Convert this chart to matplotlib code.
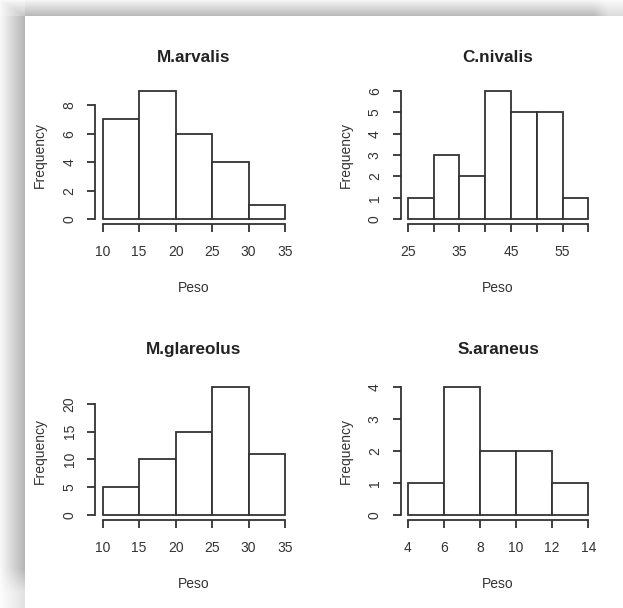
import matplotlib.pyplot as plt
import numpy as np

plt.rcParams['font.family'] = ['Liberation Sans', 'DejaVu Sans']

# histogram counts per species (Peso classes)
titles = ['M.arvalis', 'C.nivalis', 'M.glareolus', 'S.araneus']
arvalis_breaks = [10, 15, 20, 25, 30, 35]
arvalis_counts = [7, 9, 6, 4, 1]
nivalis_breaks = [25, 30, 35, 40, 45, 50, 55, 60]
nivalis_counts = [1, 3, 2, 6, 5, 5, 1]
glareolus_breaks = [10, 15, 20, 25, 30, 35]
glareolus_counts = [5, 10, 15, 23, 11]
araneus_breaks = [4, 6, 8, 10, 12, 14]
araneus_counts = [1, 4, 2, 2, 1]

yticks = [[0, 2, 4, 6, 8], [0, 1, 2, 3, 4, 5, 6], [0, 5, 10, 15, 20], [0, 1, 2, 3, 4]]
xlabels = [['10', '15', '20', '25', '30', '35'],
           ['25', '', '35', '', '45', '', '55', ''],
           ['10', '15', '20', '25', '30', '35'],
           ['4', '6', '8', '10', '12', '14']]

breaks = [arvalis_breaks, nivalis_breaks, glareolus_breaks, araneus_breaks]
counts = [arvalis_counts, nivalis_counts, glareolus_counts, araneus_counts]

W, H = 623, 608
fig = plt.figure(figsize=(W / 100, H / 100), dpi=100)

# grey drop shadow along the top and left edge of the window
yy, xx = np.mgrid[0:H, 0:W].astype(float)
shade = np.ones((H, W))
tw, lw_ = 16.0, 25.0
top = (yy < tw) & (xx >= lw_)
fade_r = np.clip((W - xx) / 30.0, 0.5, 1)
shade[top] = 1 - (0.04 + 0.25 * (yy[top] / tw)) * fade_r[top]
left = (xx < lw_) & (yy >= tw)
fade_b = np.clip((H - yy) / 40.0, 0.4, 1)
shade[left] = 1 - (0.03 + 0.27 * (xx[left] / lw_)) * fade_b[left]
corner = (xx < lw_) & (yy < tw)
t = np.minimum(xx[corner] / lw_, yy[corner] / tw)
shade[corner] = 1 - (0.03 + 0.2 * t)
bg = fig.add_axes([0, 0, 1, 1], zorder=-1)
bg.imshow(shade, cmap='gray', vmin=0, vmax=1, aspect='auto', interpolation='bilinear')
bg.axis('off')

# plot regions in pixels: (left, right, top, bottom)
boxes = [(95.4, 292.3, 85.8, 224.3), (400.6, 595.5, 85.8, 224.3),
         (95.4, 292.3, 382.2, 520.1), (400.6, 595.5, 382.2, 520.1)]

ink = '#333333'
for i in range(4):
    x0, x1, y0, y1 = boxes[i]
    ax = fig.add_axes([x0 / W, 1 - y1 / H, (x1 - x0) / W, (y1 - y0) / H])
    ax.patch.set_alpha(0)
    b = breaks[i]
    c = counts[i]
    ax.bar(b[:-1], c, width=np.diff(b), align='edge', facecolor='white',
           edgecolor=ink, linewidth=1.3)
    rx = b[-1] - b[0]
    ax.set_xlim(b[0] - 0.04 * rx, b[-1] + 0.04 * rx)
    top_y = max(c)
    ax.set_ylim(-0.04 * top_y, top_y * 1.04)
    ax.set_xticks(b)
    ax.set_xticklabels(xlabels[i])
    ax.set_yticks(yticks[i])
    for s in ['top', 'right']:
        ax.spines[s].set_visible(False)
    for s in ['left', 'bottom']:
        ax.spines[s].set_color(ink)
        ax.spines[s].set_linewidth(1.3)
    ax.spines['left'].set_bounds(yticks[i][0], yticks[i][-1])
    ax.spines['bottom'].set_bounds(b[0], b[-1])
    ax.tick_params(direction='out', length=5.5, width=1.3, color=ink,
                   labelcolor=ink, labelsize=10, pad=9.5)
    ax.tick_params(axis='y', labelrotation=90, pad=8)
    for lab in ax.get_yticklabels():
        lab.set_va('center')
    ax.set_xlabel('Peso', fontsize=10, color=ink, labelpad=16)
    ax.set_ylabel('Frequency', fontsize=10, color=ink, labelpad=11)
    ax.set_title(titles[i], fontsize=12.3, fontweight='bold', color='#222222',
                 pad=17 if i < 2 else 20)

fig.savefig('out.png', dpi=100)
